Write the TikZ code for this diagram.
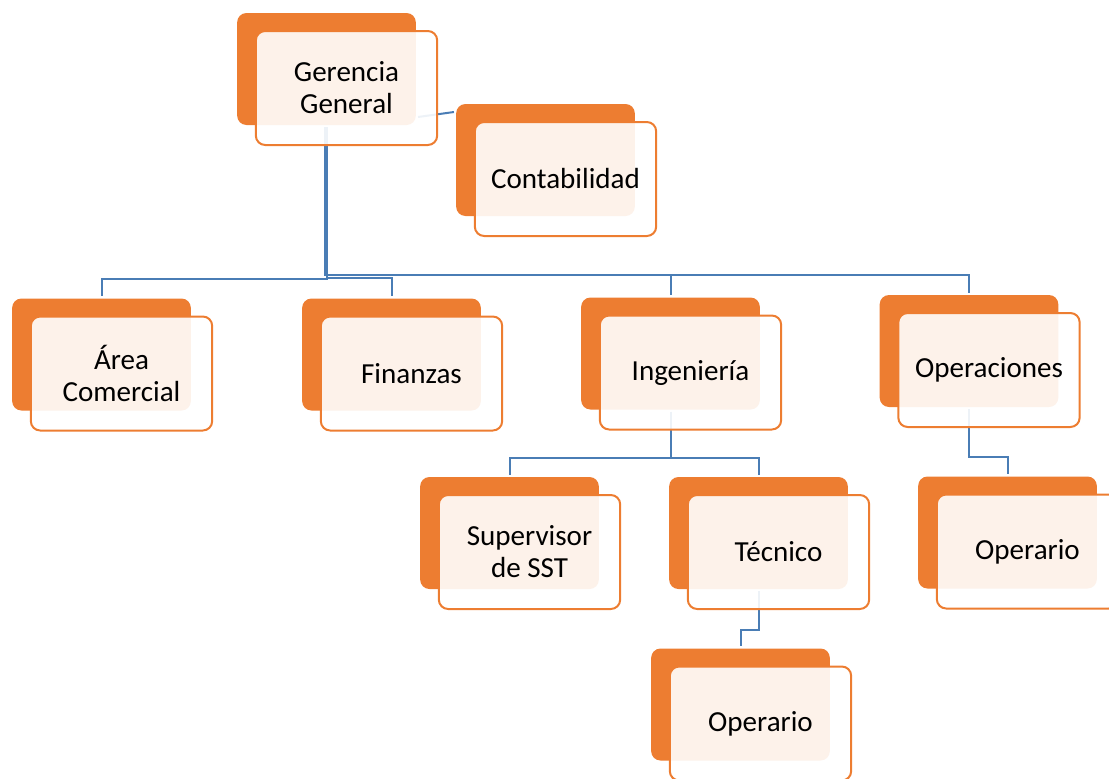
\documentclass[tikz,border=0pt]{standalone}
\usepackage{fontspec}
\setmainfont{Carlito}
\usetikzlibrary{
  positioning,
  backgrounds,  % Predefined layer named "background"
}
\definecolor{boxorange}{HTML}{ED7D31}
\definecolor{linkblue}{HTML}{4A7DB5}
\def\myboxw{134pt}
\def\myboxh{84pt}
\tikzset{
  back box/.style={
    rectangle,
    rounded corners=7pt,
    fill=boxorange,
    minimum width=\myboxw,
    minimum height=\myboxh,
    inner sep=0mm
  },
  front box/.style={
    back box,
    minimum width=136pt,
    minimum height=85.5pt,
    fill=white,
    fill opacity=0.9,
    text opacity=1,
    draw=boxorange,
    line width=1.5pt,
    align=center,
    font=\fontsize{21.8}{24}\selectfont
  },
  % Front card sits down and to the right of its orange card
  offset front/.style={
    shift={(20,19)}
  },
  link/.style={
    draw=linkblue,
    line width=1.5pt,
    shorten <=1.5pt,
    shorten >=1.5pt
  }
}

\begin{document}
\begin{tikzpicture}[x=0.75pt,y=-0.75pt]
\useasboundingbox (0,0) rectangle (1109,778);
\node[back box]  (gg)  at (326.5,69)      {};
\node[front box] (ggt) at ([offset front]gg) {Gerencia\\General};
\node[back box]  (ct)  at (545.5,160)     {};
\node[front box] (ctt) at ([offset front]ct) {Contabilidad};
\node[back box]  (ac)  at (101.5,354.5)   {};
\node[front box] (act) at ([offset front]ac) {Área\\Comercial};
\node[back box]  (fi)  at (391.5,354.5)   {};
\node[front box] (fit) at ([offset front]fi) {Finanzas};
\node[back box]  (in)  at (670.5,353.5)   {};
\node[front box] (int) at ([offset front]in) {Ingeniería};
\node[back box]  (op)  at (969,351)       {};
\node[front box] (opt) at ([offset front]op) {Operaciones};
\node[back box]  (su)  at (509.5,533)     {};
\node[front box] (sut) at ([offset front]su) {Supervisor\\de SST};
\node[back box]  (te)  at (758.5,533)     {};
\node[front box] (tet) at ([offset front]te) {Técnico};
\node[back box]  (ob)  at (740.5,704.5)   {};
\node[front box] (obt) at ([offset front]ob) {Operario};
\node[back box]  (or)  at (1007.5,532.5)  {};
\node[front box] (ort) at ([offset front]or) {Operario};
\begin{scope}[on background layer]
\draw[link] ([shift={(0,-8)}]gg.south east) -- ([shift={(0,8)}]ct.north west);
\draw[link] (gg.south) |- ([shift={(0,-19)}]ac.north) -- (ac.north);
\draw[link] (gg.south) |- ([shift={(0,-20)}]fi.north) -- (fi.north);
\draw[link] ([shift={(-1.5,0)}]gg.south) |- ([shift={(0,-22)}]in.north) -- (in.north);
\draw[link] ([shift={(-1.5,0)}]gg.south) |- ([shift={(0,-20)}]op.north) -- (op.north);
\draw[link] (in.south) |- ([shift={(0,-19)}]su.north) -- (su.north);
\draw[link] (in.south) |- ([shift={(0,-19)}]te.north) -- (te.north);
\draw[link] (te.south) |- ([shift={(0,-18)}]ob.north) -- (ob.north);
\draw[link] (op.south) |- ([shift={(0,-19)}]or.north) -- (or.north);
\end{scope}
\end{tikzpicture}
\end{document}
